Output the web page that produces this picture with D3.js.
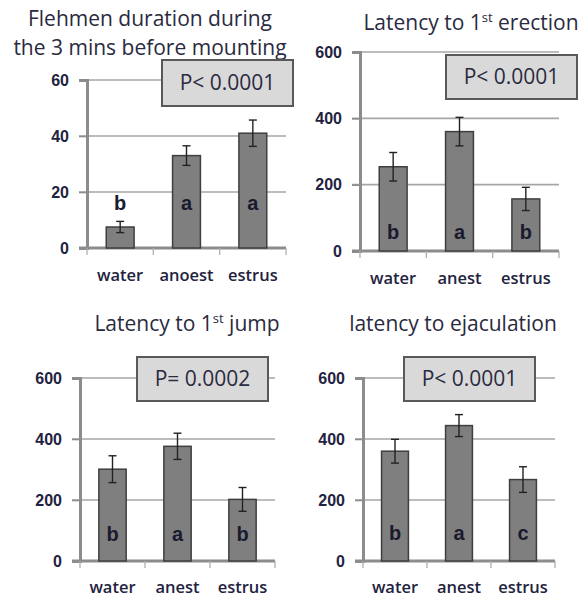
<!DOCTYPE html>
<html><head><meta charset="utf-8">
<script src="https://cdn.jsdelivr.net/npm/d3@7"></script>
<style>
html,body{margin:0;padding:0;background:#fff;}
svg{display:block;}
</style></head>
<body>
<svg id="c" width="585" height="599"></svg>
<script>
// ---- data ----
const categoriesFlehmen = ["water", "anoest", "estrus"];
const categoriesLatency = ["water", "anest", "estrus"];

const flehmenMeans = [7.5, 33, 41];
const flehmenErr   = [2, 3.5, 4.7];
const flehmenLetters = ["b", "a", "a"];

const erectionMeans = [254, 360, 157];
const erectionErr   = [43, 43, 35];
const erectionLetters = ["b", "a", "b"];

const jumpMeans = [301, 376, 202];
const jumpErr   = [44, 43, 39];
const jumpLetters = ["b", "a", "b"];

const ejacMeans = [360, 444, 267];
const ejacErr   = [39, 36, 42];
const ejacLetters = ["b", "a", "c"];

const ticksFlehmen = [0, 20, 40, 60];
const ticksLatency = [0, 200, 400, 600];

const titles = [
  [["Flehmen duration during"], ["the 3 mins before mounting"]],
  [["Latency to 1", "st", " erection"]],
  [["Latency to 1", "st", " jump"]],
  [["latency to ejaculation"]]
];
const pValues = ["P< 0.0001", "P< 0.0001", "P= 0.0002", "P< 0.0001"];

// ---- layout (positions only) ----
const panels = [
  {cats: categoriesFlehmen, means: flehmenMeans, err: flehmenErr, letters: flehmenLetters, ticks: ticksFlehmen,
   x0: 87, x1: 286, yTop: 80, yBot: 248, titleX: 150, titleY: [26, 55], box: [162, 60, 131, 46], letterUp: 38, labelY: 281},
  {cats: categoriesLatency, means: erectionMeans, err: erectionErr, letters: erectionLetters, ticks: ticksLatency,
   x0: 360, x1: 559, yTop: 52, yBot: 251, titleX: 471, titleY: [30], box: [446, 55, 131, 44], letterUp: 12, labelY: 284},
  {cats: categoriesLatency, means: jumpMeans, err: jumpErr, letters: jumpLetters, ticks: ticksLatency,
   x0: 80, x1: 275, yTop: 378, yBot: 561, titleX: 187, titleY: [331], box: [137, 357, 131, 44], letterUp: 20, labelY: 593},
  {cats: categoriesLatency, means: ejacMeans, err: ejacErr, letters: ejacLetters, ticks: ticksLatency,
   x0: 363, x1: 555, yTop: 378, yBot: 561, titleX: 453, titleY: [331], box: [404, 357, 131, 44], letterUp: 21, labelY: 593}
];

const svg = d3.select("#c");
const textCol = "#1f2340";

panels.forEach((p, pi) => {
  const g = svg.append("g");
  const x = d3.scaleBand().domain(p.cats).range([p.x0, p.x1]).paddingInner(0.58).paddingOuter(0.29);
  const y = d3.scaleLinear().domain([0, d3.max(p.ticks)]).range([p.yBot, p.yTop]);

  // gridlines
  g.selectAll(".grid").data(p.ticks.slice(1)).join("line")
    .attr("x1", p.x0 - 8).attr("x2", p.x1)
    .attr("y1", d => y(d)).attr("y2", d => y(d))
    .attr("stroke", "#a6a6a6").attr("stroke-width", 1.6);

  // y axis
  const yAxis = d3.axisLeft(y).tickValues(p.ticks).tickSize(8).tickPadding(10);
  const ya = g.append("g").attr("transform", `translate(${p.x0},0)`).call(yAxis);
  ya.select(".domain").attr("stroke", "#8c8c8c").attr("stroke-width", 3);
  ya.selectAll(".tick line").attr("stroke", "#8c8c8c").attr("stroke-width", 1.6);
  ya.selectAll(".tick text").attr("fill", textCol).attr("font-family", "Liberation Sans, Arial, sans-serif")
    .attr("font-weight", "bold").attr("font-size", 16);

  // x axis baseline + tick marks at band boundaries
  g.append("line").attr("x1", p.x0 - 8).attr("x2", p.x1).attr("y1", p.yBot).attr("y2", p.yBot)
    .attr("stroke", "#8c8c8c").attr("stroke-width", 3);
  const bnd = [p.x0].concat(p.cats.slice(1).map(c => x(c) - (x.step() - x.bandwidth()) / 2)).concat([p.x1]);
  g.selectAll(".xt").data(bnd).join("line")
    .attr("x1", d => d).attr("x2", d => d).attr("y1", p.yBot).attr("y2", p.yBot + 7)
    .attr("stroke", "#b0b0b0").attr("stroke-width", 1.3);

  // x labels
  g.selectAll(".xl").data(p.cats).join("text")
    .attr("x", d => x(d) + x.bandwidth() / 2).attr("y", p.labelY)
    .attr("text-anchor", "middle").attr("fill", textCol)
    .attr("font-family", "Open Sans, sans-serif").attr("font-weight", 600).attr("font-size", 16.5)
    .text(d => d);

  // bars
  g.selectAll(".bar").data(p.means).join("rect")
    .attr("x", (d, i) => x(p.cats[i])).attr("width", x.bandwidth())
    .attr("y", d => y(d)).attr("height", d => p.yBot - y(d))
    .attr("fill", "#7f7f7f").attr("stroke", "#3f3f3f").attr("stroke-width", 1.5);

  // error bars
  const eb = g.selectAll(".eb").data(p.means).join("g");
  eb.append("line")
    .attr("x1", (d, i) => x(p.cats[i]) + x.bandwidth() / 2).attr("x2", (d, i) => x(p.cats[i]) + x.bandwidth() / 2)
    .attr("y1", (d, i) => y(d + p.err[i])).attr("y2", (d, i) => y(d - p.err[i]))
    .attr("stroke", "#222").attr("stroke-width", 1.4);
  [1, -1].forEach(s => {
    eb.append("line")
      .attr("x1", (d, i) => x(p.cats[i]) + x.bandwidth() / 2 - 4).attr("x2", (d, i) => x(p.cats[i]) + x.bandwidth() / 2 + 4)
      .attr("y1", (d, i) => y(d + s * p.err[i])).attr("y2", (d, i) => y(d + s * p.err[i]))
      .attr("stroke", "#222").attr("stroke-width", 1.4);
  });

  // letters
  g.selectAll(".lt").data(p.letters).join("text")
    .attr("x", (d, i) => x(p.cats[i]) + x.bandwidth() / 2).attr("y", p.yBot - p.letterUp)
    .attr("text-anchor", "middle").attr("fill", "#1a1a2e")
    .attr("font-family", "Liberation Sans, Arial, sans-serif").attr("font-weight", "bold").attr("font-size", 20)
    .text(d => d);

  // title
  titles[pi].forEach((parts, li) => {
    const t = g.append("text").attr("x", p.titleX).attr("y", p.titleY[li]).attr("text-anchor", "middle")
      .attr("fill", "#2a2a40").attr("font-family", "Open Sans, sans-serif").attr("font-size", 21);
    t.append("tspan").text(parts[0]);
    if (parts.length > 1) {
      t.append("tspan").attr("font-size", 13).attr("dy", -8).text(parts[1]);
      t.append("tspan").attr("dy", 8).text(parts[2]);
    }
  });

  // p-value box
  const [bx, by, bw, bh] = p.box;
  g.append("rect").attr("x", bx).attr("y", by).attr("width", bw).attr("height", bh)
    .attr("fill", "#d9d9d9").attr("stroke", "#595959").attr("stroke-width", 2);
  g.append("text").attr("x", bx + bw / 2).attr("y", by + bh / 2 + 7).attr("text-anchor", "middle")
    .attr("fill", "#2a2a40").attr("font-family", "Open Sans, sans-serif").attr("font-size", 21)
    .text(pValues[pi]);
});
</script>
</body></html>
